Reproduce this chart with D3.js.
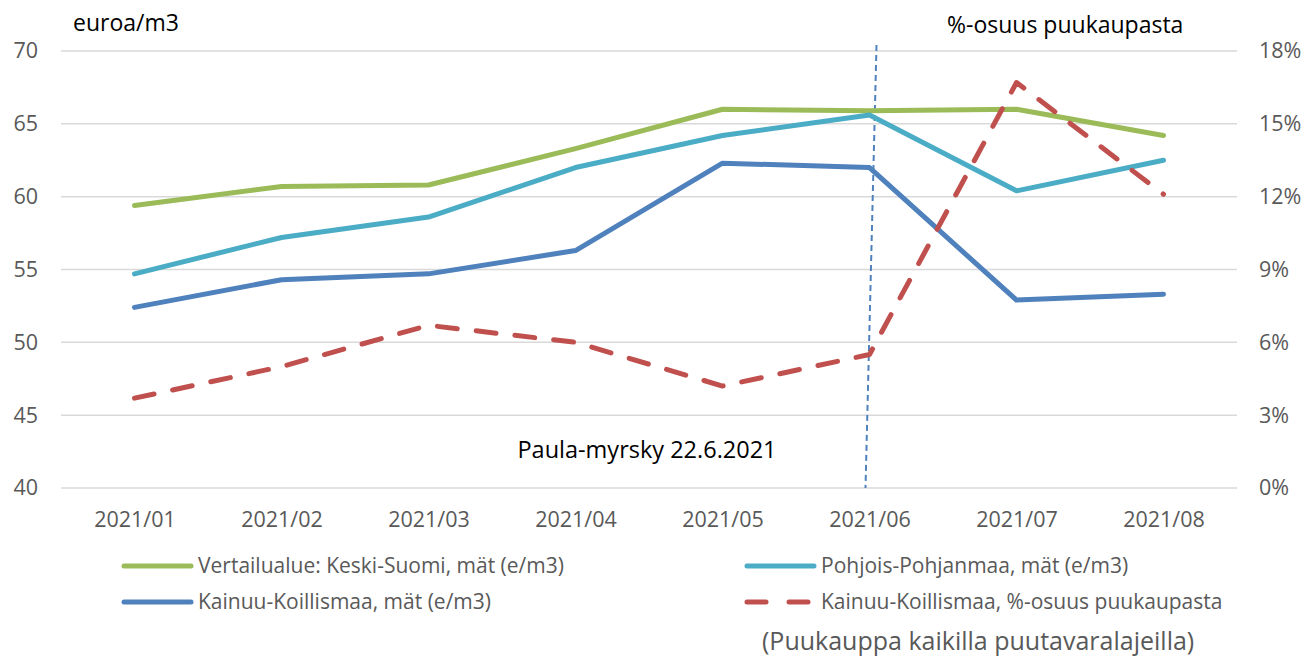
<!DOCTYPE html>
<html>
<head>
<meta charset="utf-8">
<script src="https://cdn.jsdelivr.net/npm/d3@7"></script>
<style>
  body { margin: 0; background: #fff; }
  svg { display: block; font-family: "Open Sans", sans-serif; }
</style>
</head>
<body>
<div id="chart"></div>
<script>
const months = ["2021/01", "2021/02", "2021/03", "2021/04", "2021/05", "2021/06", "2021/07", "2021/08"];
const keskiSuomi = [59.4, 60.7, 60.8, 63.3, 66.0, 65.9, 66.0, 64.2];
const pohjoisPohjanmaa = [54.7, 57.2, 58.6, 62.0, 64.2, 65.6, 60.4, 62.5];
const kainuuPrice = [52.4, 54.3, 54.7, 56.3, 62.3, 62.0, 52.9, 53.3];
const kainuuShare = [0.037, 0.050, 0.067, 0.060, 0.042, 0.055, 0.167, 0.121];
const leftTicks = [40, 45, 50, 55, 60, 65, 70];
const rightTicks = [0, 0.03, 0.06, 0.09, 0.12, 0.15, 0.18];

const width = 1306, height = 658;
const svg = d3.select("#chart").append("svg")
  .attr("width", width).attr("height", height);

const x = d3.scalePoint().domain(months).range([61, 1237]).padding(0.5);
const y = d3.scaleLinear().domain([40, 70]).range([488, 51]);
const y2 = d3.scaleLinear().domain([0, 0.18]).range([488, 51]);

const tickFont = 21.5;

// gridlines
svg.append("g").selectAll("line").data(leftTicks).join("line")
  .attr("x1", 61).attr("x2", 1237)
  .attr("y1", d => y(d)).attr("y2", d => y(d))
  .attr("stroke", "#d9d9d9").attr("stroke-width", 1.5);

// left axis
const leftAxis = svg.append("g").attr("transform", "translate(40,0)")
  .call(d3.axisLeft(y).tickValues(leftTicks).tickSize(0).tickPadding(2));
leftAxis.select(".domain").remove();
leftAxis.selectAll("text").attr("font-size", tickFont).attr("fill", "#595959")
  .attr("font-family", "Open Sans, sans-serif");

// right axis
const rightAxis = svg.append("g").attr("transform", "translate(1259,0)")
  .call(d3.axisRight(y2).tickValues(rightTicks).tickSize(0).tickPadding(0)
    .tickFormat(d3.format(".0%")));
rightAxis.select(".domain").remove();
rightAxis.selectAll("text").attr("font-size", tickFont).attr("fill", "#595959")
  .attr("font-family", "Open Sans, sans-serif");

// bottom axis
const bottomAxis = svg.append("g").attr("transform", "translate(0,500)")
  .call(d3.axisBottom(x).tickSize(0).tickPadding(12));
bottomAxis.select(".domain").remove();
bottomAxis.selectAll("text").attr("font-size", tickFont).attr("fill", "#595959")
  .attr("font-family", "Open Sans, sans-serif");

// axis titles
svg.append("text").attr("x", 73).attr("y", 31).attr("font-size", 23)
  .attr("fill", "#000").text("euroa/m3");
svg.append("text").attr("x", 947).attr("y", 33).attr("font-size", 23)
  .attr("fill", "#000").text("%-osuus puukaupasta");

// storm marker
const stormX = x("2021/06");
svg.append("line")
  .attr("x1", stormX + 7).attr("y1", 45)
  .attr("x2", stormX - 4).attr("y2", y(40))
  .attr("stroke", "#4f81bd").attr("stroke-width", 2)
  .attr("stroke-dasharray", "6,4");
svg.append("text").attr("x", 647).attr("y", 458).attr("text-anchor", "middle")
  .attr("font-size", 23.5).attr("fill", "#000").text("Paula-myrsky 22.6.2021");

const series = [
  { name: "Vertailualue: Keski-Suomi, mät (e/m3)", values: keskiSuomi, color: "#9bbb59", scale: y, dash: null },
  { name: "Pohjois-Pohjanmaa, mät (e/m3)", values: pohjoisPohjanmaa, color: "#4bacc6", scale: y, dash: null },
  { name: "Kainuu-Koillismaa, mät (e/m3)", values: kainuuPrice, color: "#4f81bd", scale: y, dash: null },
  { name: "Kainuu-Koillismaa, %-osuus puukaupasta", values: kainuuShare, color: "#c0504d", scale: y2, dash: "20,19" }
];

series.forEach(s => {
  const line = d3.line().x((d, i) => x(months[i])).y(d => s.scale(d));
  svg.append("path")
    .attr("d", line(s.values))
    .attr("fill", "none")
    .attr("stroke", s.color)
    .attr("stroke-width", 5)
    .attr("stroke-linecap", "round")
    .attr("stroke-linejoin", "round")
    .attr("stroke-dasharray", s.dash);
});

// legend
const legendPos = [
  { x: 124, y: 566 },
  { x: 747, y: 566 },
  { x: 124, y: 602 },
  { x: 747, y: 602 }
];
series.forEach((s, i) => {
  const p = legendPos[i];
  const g = svg.append("g").attr("transform", `translate(${p.x},${p.y})`);
  g.append("line").attr("x1", 0).attr("x2", 67).attr("y1", 0).attr("y2", 0)
    .attr("stroke", s.color).attr("stroke-width", 5)
    .attr("stroke-linecap", "round")
    .attr("stroke-dasharray", s.dash ? "19,23" : null);
  g.append("text").attr("x", 74).attr("y", 0).attr("dy", "0.35em")
    .attr("font-size", 21).attr("fill", "#595959").text(s.name);
});

svg.append("text").attr("x", 762).attr("y", 650).attr("font-size", 25)
  .attr("fill", "#595959").text("(Puukauppa kaikilla puutavaralajeilla)");
</script>
</body>
</html>
